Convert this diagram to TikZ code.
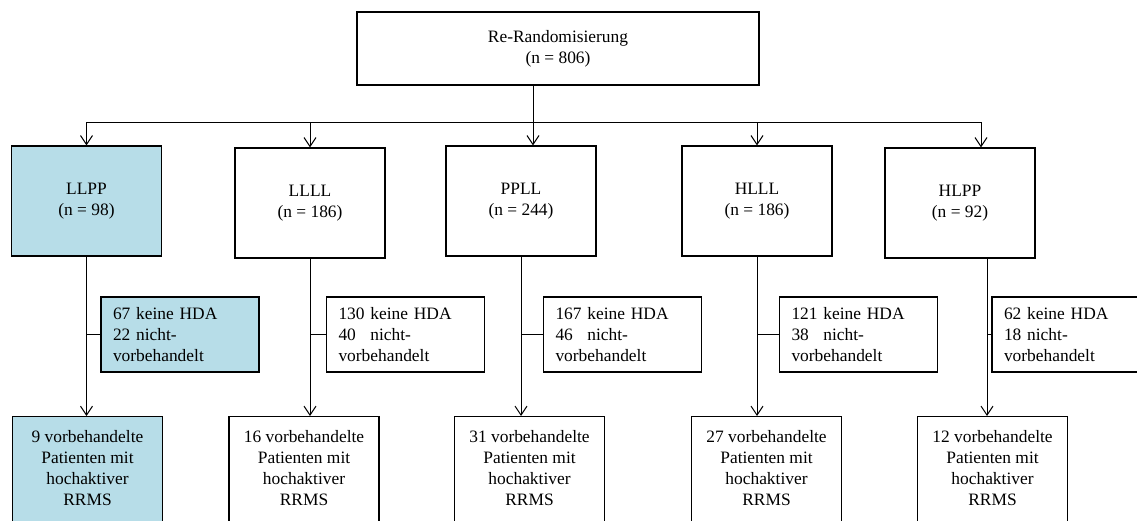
\documentclass[tikz,border=0pt]{standalone}
\usepackage{fontspec}
\setmainfont{Liberation Serif}
\usetikzlibrary{arrows.meta, positioning}
\usepackage{xcolor}
\definecolor{hdablue}{HTML}{B7DDE8}
\newcommand{\downstrut}{\rule[-22pt]{0pt}{22pt}}

\begin{document}
\begin{tikzpicture}[
    x=1pt, y=-1pt,
    font=\fontsize{17.4}{21}\selectfont,
    grp/.style={draw, line width=1.2pt, fill=#1, minimum width=150pt, minimum height=110pt, align=center},
    grp/.default=white,
    excl/.style={draw, line width=1.2pt, fill=#1, text width=134pt, inner xsep=12pt, minimum height=75pt, align=left},
    excl/.default=white,
    leaf/.style={draw, line width=1.2pt, fill=#1, minimum width=150pt, anchor=north, align=center, inner ysep=14pt},
    leaf/.default=white,
    arr/.style={-{Straight Barb[length=9pt, width=12pt]}, line width=1pt},
    link/.style={line width=1pt},
]
\useasboundingbox (0,0) rectangle (1137,520);
\clip (0,0) rectangle (1137,520);

\node[draw, line width=1.2pt, minimum width=402pt, minimum height=73pt, align=center] (rr) at (558,48.5) {Re-Randomisierung\\(n = 806)};

% treatment groups
\node[grp=hdablue] (lp) at (86.5,201) {LLPP\\(n = 98)};
\node[grp] (ll) at (310,203) {LLLL\\(n = 186)};
\node[grp] (pl) at (521,201) {PPLL\\(n = 244)};
\node[grp] (hl) at (757,201) {HLLL\\(n = 186)};
\node[grp] (hp) at (960,203) {HLPP\\(n = 92)};

% excluded patients
\node[excl=hdablue] (s1) at (180,334.5) {67 keine HDA\\22 nicht-\\vorbehandelt};
\node[excl] (s2) at (405.5,334.5) {130 keine HDA\\40\hphantom{0} nicht-\\vorbehandelt};
\node[excl] (s3) at (622.5,334.5) {167 keine HDA\\46\hphantom{0} nicht-\\vorbehandelt};
\node[excl] (s4) at (858.5,334.5) {121 keine HDA\\38\hphantom{0} nicht-\\vorbehandelt};
\node[excl] (s5) at (1071,334.5) {62 keine HDA\\18 nicht-\\vorbehandelt};

% remaining patients
\node[leaf=hdablue] (b1) at (87.5,416) {9 vorbehandelte\\Patienten mit\\hochaktiver\\RRMS\downstrut};
\node[leaf] (b2) at (304,416) {16 vorbehandelte\\Patienten mit\\hochaktiver\\RRMS\downstrut};
\node[leaf] (b3) at (529.5,416) {31 vorbehandelte\\Patienten mit\\hochaktiver\\RRMS\downstrut};
\node[leaf] (b4) at (766.5,416) {27 vorbehandelte\\Patienten mit\\hochaktiver\\RRMS\downstrut};
\node[leaf] (b5) at (992.5,416) {12 vorbehandelte\\Patienten mit\\hochaktiver\\RRMS\downstrut};

\coordinate (split) at (533,122);
\coordinate (busW) at (lp.north |- split);
\coordinate (busE) at (981,122);
\coordinate (hpdrop) at ([xshift=27pt]hp.south);

\draw[link] (rr.south -| split) -- (split);
\draw[link, line cap=rect] (busW) -- (busE);
\draw[arr] (busW) -- (lp.north);
\draw[arr] (ll.north |- split) -- (ll.north);
\draw[arr] (split) -- (split |- pl.north);
\draw[arr] (hl.north |- split) -- (hl.north);
\draw[arr] (busE) -- (busE |- hp.north);

\draw[arr] (lp.south) -- (lp.south |- b1.north);
\draw[arr] (ll.south) -- (ll.south |- b2.north);
\draw[arr] (pl.south) -- (pl.south |- b3.north);
\draw[arr] (hl.south) -- (hl.south |- b4.north);
\draw[arr] (hpdrop) -- (hpdrop |- b5.north);

\draw[link] (s1.west) -- (s1.west -| lp.south);
\draw[link] (s2.west) -- (s2.west -| ll.south);
\draw[link] (s3.west) -- (s3.west -| pl.south);
\draw[link] (s4.west) -- (s4.west -| hl.south);
\draw[link] (s5.west) -- (s5.west -| hpdrop);
\end{tikzpicture}
\end{document}
